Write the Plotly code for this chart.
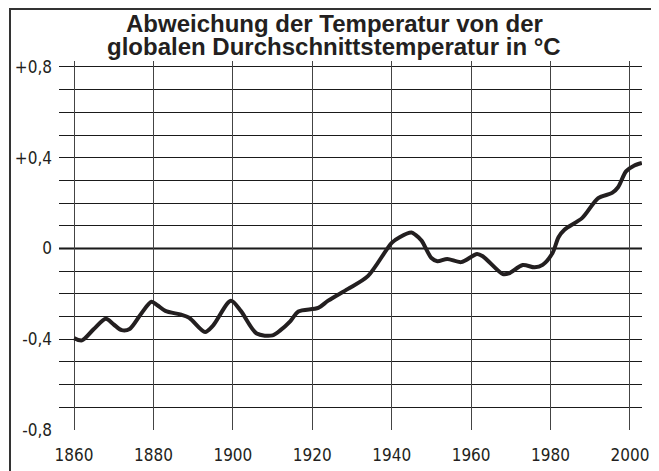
import plotly.graph_objects as go

# ---- data ----
years = [1860, 1862, 1865, 1868, 1870, 1872, 1874, 1877, 1879.5, 1881, 1883, 1887, 1889,
         1893, 1895, 1899.5, 1902, 1906, 1910, 1912, 1914.5, 1916.5, 1921.5, 1924, 1929,
         1934, 1940, 1942, 1945, 1946, 1947.5, 1950, 1951.5, 1954, 1957.5, 1961.5, 1963,
         1968, 1969.5, 1973, 1976, 1978, 1980.5, 1982, 1983.5, 1988, 1992, 1995.5, 1997,
         1999, 2001, 2003]
anomaly = [-0.395, -0.405, -0.355, -0.31, -0.335, -0.36, -0.355, -0.285, -0.235, -0.25,
           -0.275, -0.292, -0.305, -0.368, -0.34, -0.23, -0.275, -0.375, -0.383, -0.36,
           -0.32, -0.278, -0.262, -0.23, -0.178, -0.122, 0.025, 0.05, 0.07, 0.06, 0.035,
           -0.042, -0.056, -0.046, -0.06, -0.024, -0.035, -0.113, -0.11, -0.073, -0.083,
           -0.072, -0.02, 0.05, 0.083, 0.135, 0.222, 0.245, 0.27, 0.34, 0.365, 0.377]

x_ticks = [1860, 1880, 1900, 1920, 1940, 1960, 1980, 2000]
x_labels = ["1860", "1880", "1900", "1920", "1940", "1960", "1980", "2000"]
y_ticks = [0.8, 0.4, 0, -0.4, -0.8]
y_labels = ["+0,8", "+0,4", "0", "-0,4", "-0,8"]
grid_y = [-0.8, -0.7, -0.6, -0.5, -0.4, -0.3, -0.2, -0.1, 0.0,
          0.1, 0.2, 0.3, 0.4, 0.5, 0.6, 0.7, 0.8]
title_lines = ["Abweichung der Temperatur von der",
               "globalen Durchschnittstemperatur in °C"]

# the page body has an 8px default margin, so the figure is 8px smaller
W, H = 651, 463
L, R, T, B = 51, 17, 53, 41
plot_w = W - L - R
plot_h = H - T - B

narrow = "Liberation Sans Narrow, DejaVu Sans Condensed, Arial Narrow, sans-serif"
ink = "#231f20"

fig = go.Figure()

fig.add_trace(go.Scatter(
    x=years, y=anomaly, mode="lines",
    line=dict(color=ink, width=4, shape="spline", smoothing=0.8),
    hoverinfo="skip", showlegend=False,
))

fig.update_xaxes(
    range=[1856.22, 2003.03], automargin=False,
    tickmode="array", tickvals=x_ticks, ticktext=x_labels,
    showgrid=True, gridcolor="#444444", gridwidth=1,
    zeroline=False, showline=False, ticks="",
    ticklabelstandoff=13,
    tickfont=dict(family=narrow, size=17, color=ink),
)
fig.update_yaxes(
    range=[-0.8, 0.8264], automargin=False,
    tickmode="array", tickvals=y_ticks, ticktext=y_labels,
    showgrid=False, zeroline=False, showline=False, ticks="",
    ticklabelstandoff=6,
    tickfont=dict(family=narrow, size=17, color=ink),
    minor=dict(tickmode="array", tickvals=grid_y,
               showgrid=True, gridcolor="#1a1a1a", gridwidth=1, ticks=""),
)
# zero line slightly heavier
fig.add_hline(y=0, line=dict(color="#111111", width=2), layer="below")

# frame around everything
fig.add_shape(type="rect", xref="paper", yref="paper",
              x0=(2 - L) / plot_w, x1=(648 - L) / plot_w,
              y0=(H - B - 480) / plot_h, y1=(H - B - 1) / plot_h,
              line=dict(color="#333333", width=2), fillcolor="rgba(0,0,0,0)")

# title as two annotations (tight line spacing as in the reference)
for txt, ypx in zip(title_lines, [15.3, 38.5]):
    fig.add_annotation(text="<b>" + txt + "</b>", xref="paper", yref="paper",
                       x=(326 - L) / plot_w, y=(H - B - ypx) / plot_h,
                       xanchor="center", yanchor="middle", showarrow=False,
                       font=dict(family="Liberation Sans, Arial, sans-serif", size=24, color=ink))

fig.update_layout(
    width=W, height=H,
    margin=dict(l=L, r=R, t=T, b=B),
    paper_bgcolor="white", plot_bgcolor="white",
    showlegend=False,
)

fig.write_html("out.html")
